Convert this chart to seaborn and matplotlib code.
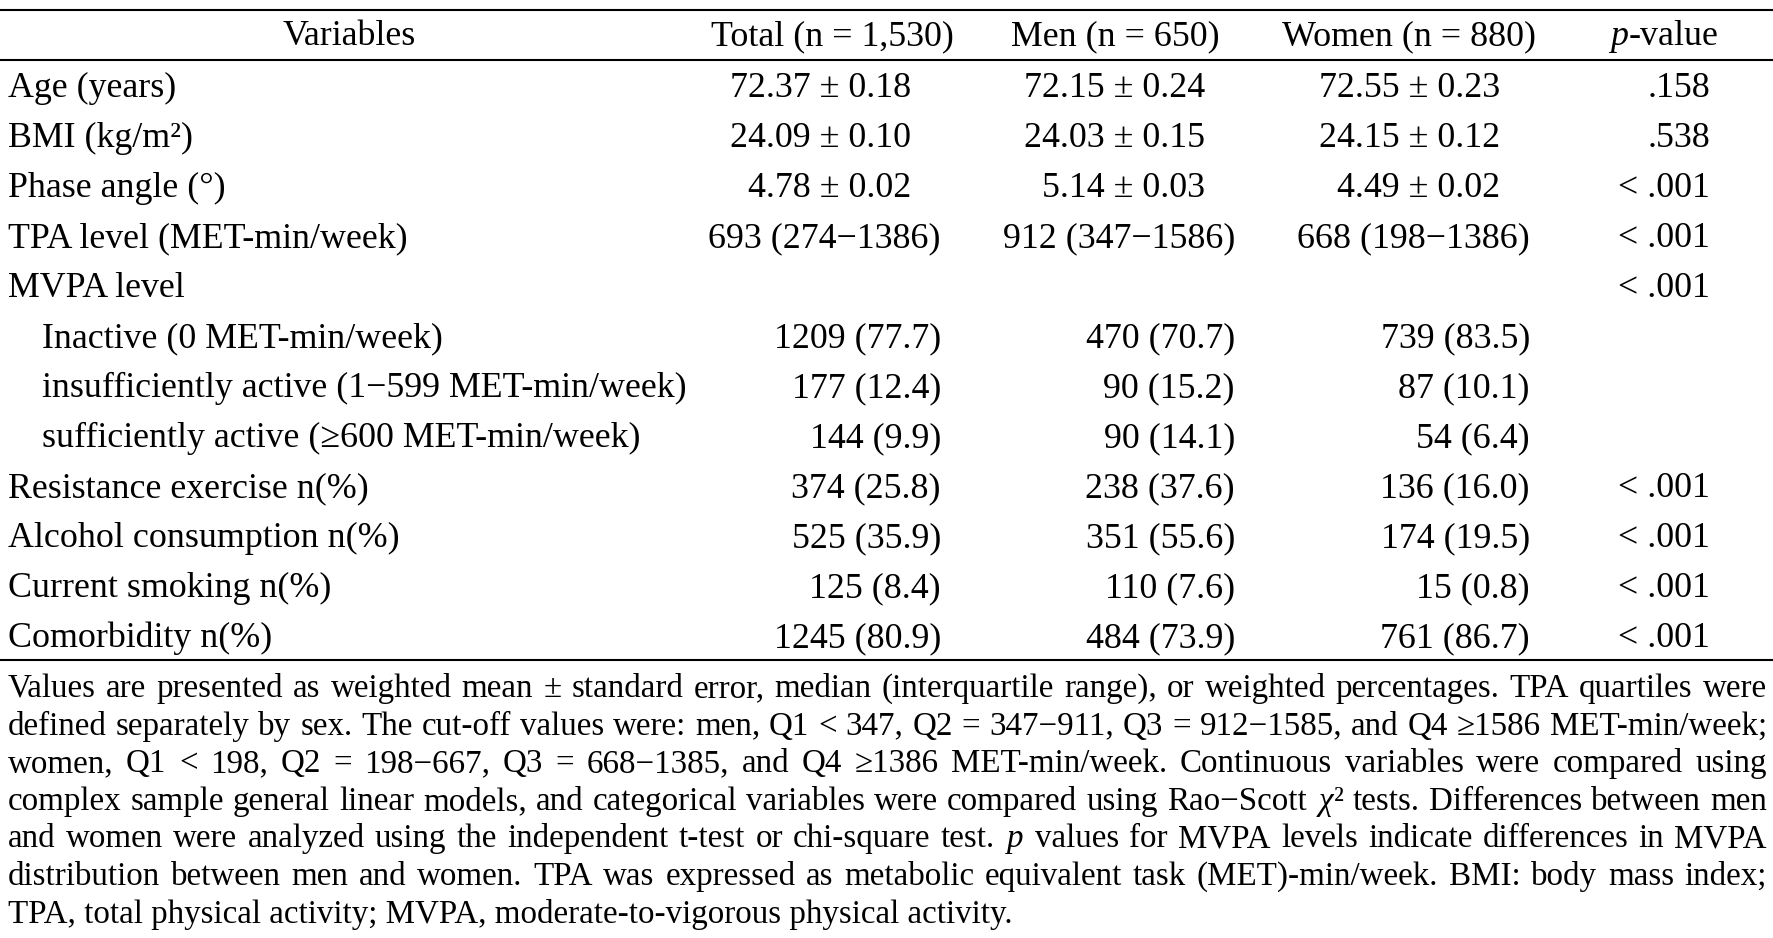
import numpy as np
import pandas as pd
import matplotlib
matplotlib.use('Agg')
import matplotlib.pyplot as plt
import seaborn as sns

# table content
headers = ['Variables', 'Total (n = 1,530)', 'Men (n = 650)', 'Women (n = 880)', '$p$-value']

row_labels = ['Age (years)', 'BMI (kg/m²)', 'Phase angle (°)', 'TPA level (MET-min/week)', 'MVPA level',
              'Inactive (0 MET-min/week)', 'insufficiently active (1−599 MET-min/week)',
              'sufficiently active (≥600 MET-min/week)', 'Resistance exercise n(%)',
              'Alcohol consumption n(%)', 'Current smoking n(%)', 'Comorbidity n(%)']
sub_rows = ['Inactive (0 MET-min/week)', 'insufficiently active (1−599 MET-min/week)',
            'sufficiently active (≥600 MET-min/week)']

total = ['72.37 ± 0.18', '24.09 ± 0.10', '4.78 ± 0.02', '693 (274−1386)', '',
         '1209 (77.7)', '177 (12.4)', '144 (9.9)', '374 (25.8)', '525 (35.9)', '125 (8.4)', '1245 (80.9)']
men = ['72.15 ± 0.24', '24.03 ± 0.15', '5.14 ± 0.03', '912 (347−1586)', '',
       '470 (70.7)', '90 (15.2)', '90 (14.1)', '238 (37.6)', '351 (55.6)', '110 (7.6)', '484 (73.9)']
women = ['72.55 ± 0.23', '24.15 ± 0.12', '4.49 ± 0.02', '668 (198−1386)', '',
         '739 (83.5)', '87 (10.1)', '54 (6.4)', '136 (16.0)', '174 (19.5)', '15 (0.8)', '761 (86.7)']
p_values = ['.158', '.538', '< .001', '< .001', '< .001', '', '', '', '< .001', '< .001', '< .001', '< .001']

note_lines = [
    'Values are presented as weighted mean ± standard error, median (interquartile range), or weighted percentages. TPA quartiles were',
    'defined separately by sex. The cut-off values were: men, Q1 < 347, Q2 = 347−911, Q3 = 912−1585, and Q4 ≥1586 MET-min/week;',
    'women, Q1 < 198, Q2 = 198−667, Q3 = 668−1385, and Q4 ≥1386 MET-min/week. Continuous variables were compared using',
    'complex sample general linear models, and categorical variables were compared using Rao−Scott $\\chi$² tests. Differences between men',
    'and women were analyzed using the independent t-test or chi-square test. $p$ values for MVPA levels indicate differences in MVPA',
    'distribution between men and women. TPA was expressed as metabolic equivalent task (MET)-min/week. BMI: body mass index;',
    'TPA, total physical activity; MVPA, moderate-to-vigorous physical activity.',
]

sns.set_theme(style='white')
plt.rcParams['font.family'] = ['Liberation Serif', 'DejaVu Serif']
plt.rcParams['mathtext.fontset'] = 'custom'
plt.rcParams['mathtext.rm'] = 'Liberation Serif'
plt.rcParams['mathtext.it'] = 'Liberation Serif:italic'

W, H = 1774, 938
fig = plt.figure(figsize=(W / 100, H / 100), dpi=100)
ax = fig.add_axes([0, 0, 1, 1])
ax.set_xlim(0, W)
ax.set_ylim(H, 0)
ax.axis('off')

body_fs = 25.8
note_fs = 23.8

# layout (pixel units)
label_x, indent_x = 8, 42
header_y = 45
first_row_y, row_step = 97, 50
col_right = [941, 1235, 1530, 1710]
col_center = [349, 832, 1115, 1409, 1663]
mean_shift = 30

# rules
for y in [10, 60, 660]:
    ax.axhline(y, color='black', lw=1.5)

# header
for txt, cx in zip(headers, col_center):
    ax.text(cx, header_y, txt, ha='center', va='baseline', fontsize=body_fs, color='black')

# body
table = pd.DataFrame({'label': row_labels, 'total': total, 'men': men, 'women': women, 'p': p_values})
for i, row in table.iterrows():
    y = first_row_y + i * row_step
    x0 = indent_x if row['label'] in sub_rows else label_x
    ax.text(x0, y, row['label'], ha='left', va='baseline', fontsize=body_fs, color='black')
    for col, xr in zip(['total', 'men', 'women', 'p'], col_right):
        val = row[col]
        if not val:
            continue
        if '±' in val:
            xr = xr - mean_shift
        ax.text(xr, y, val, ha='right', va='baseline', fontsize=body_fs, color='black')

# justified footnote
note_left, note_right = 8, 1767
note_y0, note_step = 697, 37.6
renderer = fig.canvas.get_renderer()
for i, line in enumerate(note_lines):
    y = note_y0 + i * note_step
    if i == len(note_lines) - 1:
        ax.text(note_left, y, line, ha='left', va='baseline', fontsize=note_fs, color='black')
        continue
    words = line.split(' ')
    texts = [ax.text(0, y, w, ha='left', va='baseline', fontsize=note_fs, color='black') for w in words]
    # widths in pixels == data units here
    widths = [t.get_window_extent(renderer).width for t in texts]
    gap = (note_right - note_left - sum(widths)) / (len(words) - 1)
    x = note_left
    for t, w in zip(texts, widths):
        t.set_x(x)
        x += w + gap

fig.savefig('out.png', dpi=100, facecolor='white')
